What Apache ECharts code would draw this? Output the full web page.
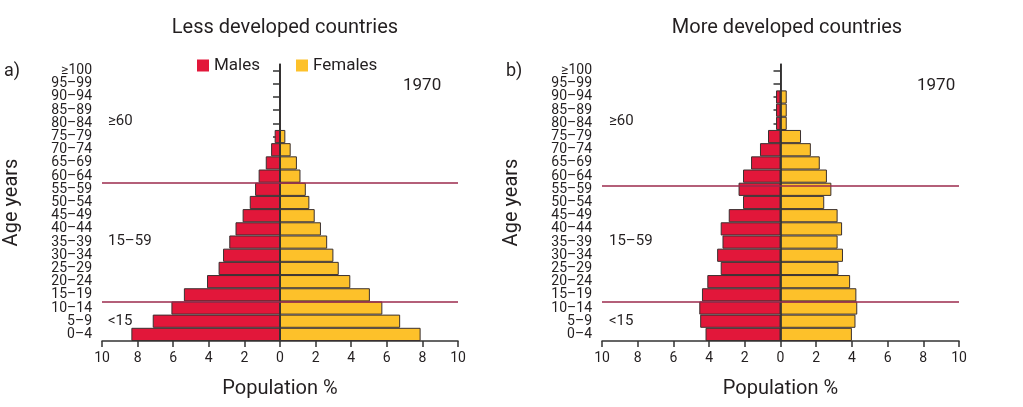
<!DOCTYPE html>
<html>
<head>
<meta charset="utf-8">
<script src="https://cdn.jsdelivr.net/npm/echarts@6/dist/echarts.min.js"></script>
<style>
html,body{margin:0;padding:0;background:#fff;}
#c{width:1023px;height:407px;}
</style>
</head>
<body>
<div id="c"></div>
<script>
// ---- data ----
var ageGroups = ['0–4','5–9','10–14','15–19','20–24','25–29','30–34','35–39','40–44','45–49','50–54','55–59','60–64','65–69','70–74','75–79','80–84','85–89','90–94','95–99','≥100'];
var lessMales   = [8.35,7.15,6.1,5.4,4.1,3.45,3.2,2.85,2.5,2.1,1.7,1.4,1.2,0.8,0.5,0.3,0,0,0,0,0];
var lessFemales = [7.9,6.75,5.75,5.05,3.95,3.3,3.0,2.65,2.3,1.95,1.65,1.45,1.15,0.95,0.6,0.3,0,0,0,0,0];
var moreMales   = [4.2,4.5,4.55,4.4,4.1,3.35,3.55,3.25,3.35,2.9,2.1,2.35,2.1,1.65,1.15,0.7,0.25,0.25,0.25,0,0];
var moreFemales = [4.0,4.2,4.3,4.25,3.9,3.25,3.5,3.2,3.45,3.2,2.45,2.85,2.6,2.2,1.7,1.15,0.35,0.35,0.35,0,0];
var xTicks = [-10,-8,-6,-4,-2,0,2,4,6,8,10];
var lessBands = [3, 12];     // group boundary positions (in age bands from bottom)
var moreBands = [3, 11.8];
var panelTitles = ['Less developed countries','More developed countries'];
var year = '1970';

var FONT = 'Roboto, "Noto Sans", sans-serif';
var TXT = '#231f20';
var RED = '#e2173a', YEL = '#fdc12a', EDGE = '#3a3030', MAROON = '#9b2a4c';

var chart = echarts.init(document.getElementById('c'));

var grids = [
  {left:102, top:64, width:356, height:277},
  {left:602, top:64, width:357, height:277}
];

function xAxisFor(i){
  return {
    type:'value', gridIndex:i, min:xTicks[0], max:xTicks[xTicks.length-1], interval:xTicks[1]-xTicks[0],
    name:'Population %', nameLocation:'middle', nameGap:38,
    nameTextStyle:{fontSize:20, color:TXT, fontFamily:FONT},
    axisLine:{show:true, lineStyle:{color:'#333', width:1.5}},
    axisTick:{show:true, length:6, lineStyle:{color:'#333', width:1.5}},
    axisLabel:{margin:10, fontSize:14, color:TXT, fontFamily:FONT,
      formatter:function(v){return String(Math.abs(v));}},
    splitLine:{show:false}
  };
}
function yCatFor(i){
  return {
    type:'category', gridIndex:i, data:ageGroups,
    name:'Age years', nameLocation:'middle', nameGap:80, nameRotate:90,
    nameTextStyle:{fontSize:20, color:TXT, fontFamily:FONT},
    axisLine:{show:true, lineStyle:{color:'#333', width:1.5}},
    axisTick:{show:true, alignWithLabel:true, length:7, lineStyle:{color:'#333', width:1.5}},
    axisLabel:{margin:10, fontSize:14, color:TXT, fontFamily:FONT, interval:0, lineHeight:13},
    splitLine:{show:false}
  };
}
function yValFor(i){
  return {type:'value', gridIndex:i, min:0, max:ageGroups.length, show:false, splitLine:{show:false}};
}

function neg(a){return a.map(function(v){return -v;});}

function barSeries(name, data, gi, color){
  return {
    name:name, type:'bar', xAxisIndex:gi, yAxisIndex:gi, stack:'s'+gi,
    data:data, barCategoryGap:'0%', silent:true,
    itemStyle:{color:color, borderColor:EDGE, borderWidth:1},
    emphasis:{disabled:true}
  };
}

function zeroLine(gi){
  return {
    type:'line', xAxisIndex:gi, yAxisIndex:gi, data:[], silent:true,
    markLine:{silent:true, symbol:'none', label:{show:false},
      lineStyle:{color:'#333', width:1.5, type:'solid'},
      data:[{xAxis:0}]}
  };
}
function bandLines(gi, bands){
  return {
    type:'line', xAxisIndex:gi, yAxisIndex:gi+2, data:[], silent:true,
    markLine:{silent:true, symbol:'none', label:{show:false},
      lineStyle:{color:MAROON, width:1.5, type:'solid'},
      data:bands.map(function(b){return {yAxis:b};})}
  };
}

function txt(x,y,s,size,align){
  return {type:'text', left:x, top:y, style:{text:s, fontSize:size, fill:TXT, fontFamily:FONT, align:align||'left'}};
}

var option = {
  animation:false,
  backgroundColor:'#fff',
  title:[
    {text:panelTitles[0], left:280, top:13, textAlign:'center', textStyle:{fontSize:20, fontWeight:'normal', color:TXT, fontFamily:FONT}},
    {text:panelTitles[1], left:782, top:13, textAlign:'center', textStyle:{fontSize:20, fontWeight:'normal', color:TXT, fontFamily:FONT}}
  ],
  legend:{
    left:192, top:52, itemWidth:12, itemHeight:12, itemGap:36,
    icon:'rect', data:['Males','Females'],
    itemStyle:{borderWidth:0},
    textStyle:{fontSize:17, color:TXT, fontFamily:FONT},
    selectedMode:false
  },
  grid:grids,
  xAxis:[xAxisFor(0), xAxisFor(1)],
  yAxis:[yCatFor(0), yCatFor(1), yValFor(0), yValFor(1)],
  series:[
    barSeries('Males', neg(lessMales), 0, RED),
    barSeries('Females', lessFemales, 0, YEL),
    barSeries('Males', neg(moreMales), 1, RED),
    barSeries('Females', moreFemales, 1, YEL),
    zeroLine(0), zeroLine(1),
    bandLines(0, lessBands), bandLines(1, moreBands)
  ],
  graphic:[
    txt(4,62,'a)',18), txt(506,62,'b)',18),
    txt(403,77,year,17), txt(917,77,year,17),
    txt(108,114,'≥60',15), txt(108,234,'15–59',15), txt(108,314,'<15',15),
    txt(609,114,'≥60',15), txt(609,234,'15–59',15), txt(609,314,'<15',15)
  ]
};
chart.setOption(option);
</script>
</body>
</html>
